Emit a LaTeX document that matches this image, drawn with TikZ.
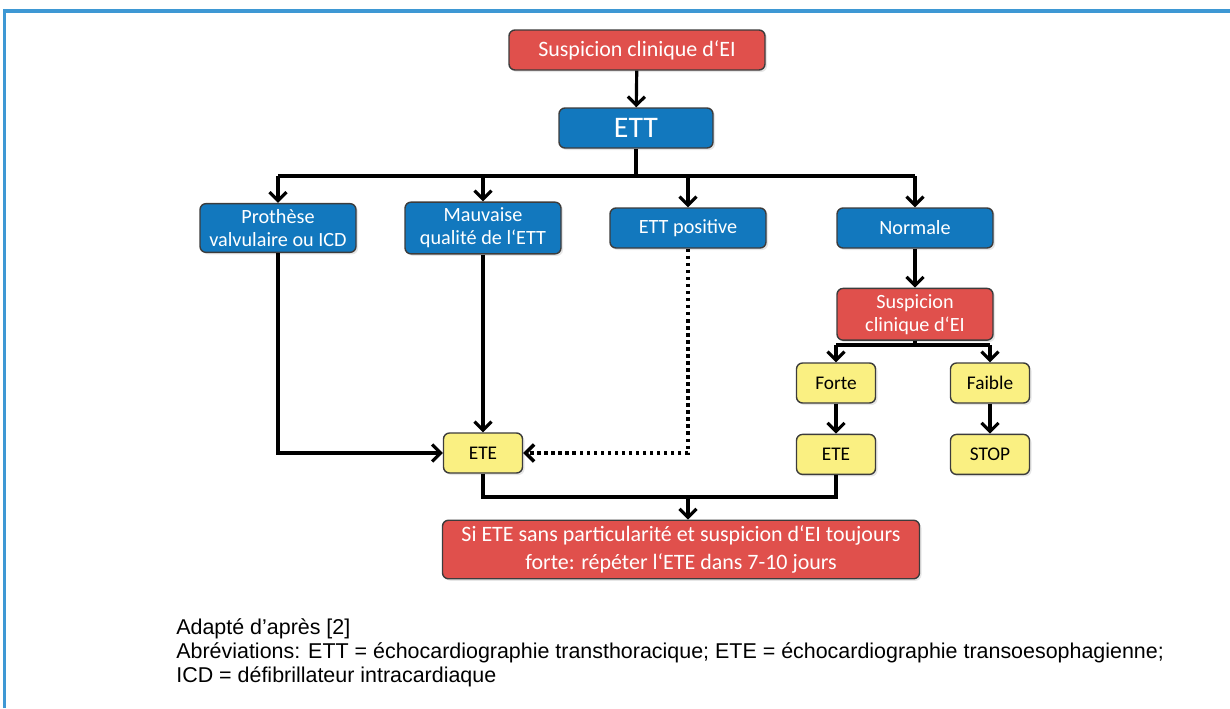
\documentclass[tikz,border=0pt]{standalone}
\usepackage{fontspec}
\setmainfont{Liberation Sans}
\newfontfamily\boxfont{Carlito}
\usepackage{tikz}
\usetikzlibrary{
  arrows.meta,
  positioning,
  shadows
}
\definecolor{AlertRed}{RGB}{224,80,76}
\definecolor{ExamBlue}{RGB}{18,120,190}
\definecolor{ResultYellow}{RGB}{250,240,130}
\definecolor{BorderGray}{RGB}{60,60,60}
\definecolor{FrameBlue}{RGB}{62,152,212}
\tikzset{
  redbox/.style={draw=BorderGray,fill=AlertRed,text=white,rounded corners=1.2mm,line width=0.8pt,minimum height=8mm,align=center,font=\boxfont\fontsize{12.5}{14}\selectfont,drop shadow={opacity=0.2,shadow xshift=0.4mm,shadow yshift=-0.4mm}},
  bluebox/.style={draw=BorderGray,fill=ExamBlue,text=white,rounded corners=1.2mm,line width=0.8pt,minimum height=8mm,minimum width=3.12cm,align=center,font=\boxfont\fontsize{11.5}{13}\selectfont,drop shadow={opacity=0.2,shadow xshift=0.4mm,shadow yshift=-0.4mm}},
  yellowbox/.style={draw=BorderGray,fill=ResultYellow,text=black,rounded corners=1.2mm,line width=0.8pt,minimum height=8mm,minimum width=1.58cm,align=center,font=\boxfont\fontsize{11}{12.5}\selectfont,drop shadow={opacity=0.2,shadow xshift=0.4mm,shadow yshift=-0.4mm}},
  flowarrow/.style={-{Straight Barb[length=1.7mm,width=3.4mm]},line width=1.8pt,draw=black},
  flowline/.style={line width=1.8pt,draw=black},
  dotarrow/.style={-{Straight Barb[length=1.7mm,width=3.4mm]},line width=2pt,dotted,draw=black}
}
\begin{document}
\begin{tikzpicture}
\useasboundingbox (0,0) rectangle (24.6,-14.16);
\draw[FrameBlue,line width=2pt] (0.09,-14.16) -- (0.09,-0.22) -- (24.6,-0.22);
% top of the chart
\node[redbox,minimum width=5.12cm] (suspicion) at (12.74,-1.0) {Suspicion clinique d‘EI};
\node[bluebox,minimum width=3.08cm,font=\boxfont\fontsize{17}{19}\selectfont] (ett) at (12.72,-2.56) {ETT};
% results of the ETT
\node[bluebox] (prothese) at (5.56,-4.56) {Prothèse\\valvulaire ou ICD};
\node[bluebox] (mauvaise) at (9.66,-4.56) {Mauvaise\\qualité de l‘ETT};
\node[bluebox] (positive) at (13.76,-4.56) {ETT positive};
\node[bluebox] (normale) at (18.3,-4.56) {Normale};
\node[redbox,minimum width=3.12cm,font=\boxfont\fontsize{11.5}{13}\selectfont,below=0.78cm of normale] (suspicion2) {Suspicion\\clinique d‘EI};
\node[yellowbox] (forte) at (16.72,-7.66) {Forte};
\node[yellowbox] (faible) at (19.8,-7.66) {Faible};
\node[yellowbox,below=0.6cm of forte] (eteright) {ETE};
\node[yellowbox,below=0.6cm of faible] (stop) {STOP};
\node[yellowbox] (eteleft) at (9.66,-9.06) {ETE};
\node[redbox,minimum width=9.54cm,minimum height=1.1cm,font=\boxfont\fontsize{12.5}{15.5}\selectfont] (repeat) at (13.62,-10.99) {Si ETE sans particularité et suspicion d‘EI toujours\\forte: répéter l‘ETE dans 7-10 jours};
\node[anchor=north west,align=left,inner sep=0pt,font=\fontsize{12.2}{13.8}\selectfont] (note) at (3.52,-12.36) {Adapté d’après [2]\\Abréviations: ETT = échocardiographie transthoracique; ETE = échocardiographie transoesophagienne;\\ICD = défibrillateur intracardiaque};
% connectors
\draw[flowarrow] (suspicion) -- (ett);
\draw[flowline] (ett.south) -- (ett.south |- 0,-3.52) coordinate (split);
\draw[flowline] (prothese.north |- split) -- (normale.north |- split);
\foreach \n in {prothese,mauvaise,positive,normale}
  \draw[flowarrow] (\n.north |- split) -- (\n.north);
\draw[flowarrow] (normale) -- (suspicion2);
\draw[flowline] (suspicion2.south) -- (suspicion2.south |- 0,-6.9) coordinate (split2);
\draw[flowline] (forte.north |- split2) -- (faible.north |- split2);
\draw[flowarrow] (forte.north |- split2) -- (forte.north);
\draw[flowarrow] (faible.north |- split2) -- (faible.north);
\draw[flowarrow] (forte) -- (eteright);
\draw[flowarrow] (faible) -- (stop);
\draw[flowarrow] (prothese.south) |- (eteleft.west);
\draw[flowarrow] (mauvaise.south) -- (eteleft.north);
\draw[dotarrow] (positive.south) |- (eteleft.east);
\draw[flowline] (eteleft.south) -- (eteleft.south |- 0,-9.94) coordinate (merge) -- (eteright.south |- merge) -- (eteright.south);
\draw[flowarrow] (positive.south |- merge) -- (positive.south |- repeat.north);
\end{tikzpicture}
\end{document}
